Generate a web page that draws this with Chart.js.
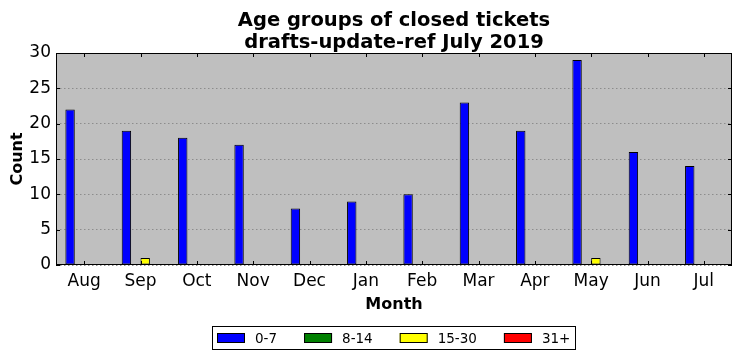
<!DOCTYPE html>
<html>
<head>
<meta charset="utf-8">
<script src="https://cdn.jsdelivr.net/npm/chart.js@4"></script>
<style>
  html, body { margin: 0; padding: 0; background: #fff; }
  #wrap { width: 742px; height: 361px; }
</style>
</head>
<body>
<div id="wrap"><canvas id="ageChart"></canvas></div>
<script>
// Data
const months = ['Aug', 'Sep', 'Oct', 'Nov', 'Dec', 'Jan', 'Feb', 'Mar', 'Apr', 'May', 'Jun', 'Jul'];
const age0to7 = [22, 19, 18, 17, 8, 9, 10, 23, 19, 29, 16, 14];
const age8to14 = [0, 0, 0, 0, 0, 0, 0, 0, 0, 0, 0, 0];
const age15to30 = [0, 1, 0, 0, 0, 0, 0, 0, 0, 1, 0, 0];
const age31plus = [0, 0, 0, 0, 0, 0, 0, 0, 0, 0, 0, 0];
const titleLines = ['Age groups of closed tickets', 'drafts-update-ref July 2019'];

Chart.defaults.font.family = "'DejaVu Sans', sans-serif";
Chart.defaults.color = '#000';

// matplotlib-like frame: grey background, black box, inward ticks, title and boxed legend
const mplFrame = {
    id: 'mplFrame',
    beforeDraw(chart) {
        const { ctx, chartArea: a } = chart;
        ctx.save();
        ctx.fillStyle = '#bfbfbf';
        ctx.fillRect(a.left, a.top, a.right - a.left, a.bottom - a.top);
        ctx.restore();
    },
    afterDraw(chart) {
        const { ctx, chartArea: a } = chart;
        const xs = chart.scales.x, ys = chart.scales.y;
        ctx.save();
        ctx.strokeStyle = '#000';
        ctx.lineWidth = 1;
        ctx.strokeRect(a.left + 0.5, a.top + 0.5, a.right - a.left - 1, a.bottom - a.top - 1);

        // inward ticks
        ctx.beginPath();
        xs.ticks.forEach((t, i) => {
            const x = Math.round(xs.getPixelForTick(i)) + 0.5;
            ctx.moveTo(x, a.bottom); ctx.lineTo(x, a.bottom - 4);
            ctx.moveTo(x, a.top); ctx.lineTo(x, a.top + 4);
        });
        ys.ticks.forEach((t, i) => {
            const y = Math.round(ys.getPixelForTick(i)) + 0.5;
            ctx.moveTo(a.left, y); ctx.lineTo(a.left + 4, y);
            ctx.moveTo(a.right, y); ctx.lineTo(a.right - 4, y);
        });
        ctx.stroke();

        // title
        const cx = (a.left + a.right) / 2;
        ctx.fillStyle = '#000';
        ctx.textAlign = 'center';
        ctx.textBaseline = 'alphabetic';
        ctx.font = "bold 19.5px 'DejaVu Sans'";
        ctx.fillText(titleLines[0], cx, 26);
        ctx.fillText(titleLines[1], cx, 48);

        // legend
        ctx.font = "13.5px 'DejaVu Sans'";
        const boxW = 28, boxH = 10, textGap = 10, itemGap = 27, pad = 4;
        const items = chart.data.datasets.map(d => ({ label: d.label, color: d.backgroundColor, w: ctx.measureText(d.label).width }));
        let total = items.reduce((s, it) => s + boxW + textGap + it.w, 0) + itemGap * (items.length - 1);
        const lw = Math.round(total + pad * 2 + 3), lh = 24;
        const lx = Math.round(cx - lw / 2), ly = 326;
        ctx.fillStyle = '#fff';
        ctx.fillRect(lx, ly, lw, lh);
        ctx.strokeRect(lx + 0.5, ly + 0.5, lw - 1, lh - 1);
        let x = lx + pad + 1;
        const my = ly + lh / 2;
        ctx.textAlign = 'left';
        ctx.textBaseline = 'middle';
        items.forEach(it => {
            ctx.fillStyle = it.color;
            ctx.fillRect(x, my - boxH / 2, boxW, boxH);
            ctx.strokeRect(x + 0.5, my - boxH / 2 + 0.5, boxW - 1, boxH - 1);
            ctx.fillStyle = '#000';
            ctx.fillText(it.label, x + boxW + textGap, my + 1);
            x += boxW + textGap + it.w + itemGap;
        });
        ctx.restore();
    }
};

const barStyle = { borderColor: '#000', borderWidth: 1, borderSkipped: false, categoryPercentage: 0.667, barPercentage: 1.0 };

new Chart(document.getElementById('ageChart'), {
    type: 'bar',
    data: {
        labels: months,
        datasets: [
            { label: '0-7', data: age0to7, backgroundColor: '#0000ff', ...barStyle },
            { label: '8-14', data: age8to14, backgroundColor: '#008000', ...barStyle },
            { label: '15-30', data: age15to30, backgroundColor: '#ffff00', ...barStyle },
            { label: '31+', data: age31plus, backgroundColor: '#ff0000', ...barStyle }
        ]
    },
    options: {
        responsive: true,
        maintainAspectRatio: false,
        animation: false,
        layout: { padding: { top: 53, right: 10, bottom: 47, left: 0 } },
        plugins: {
            legend: { display: false },
            title: { display: false },
            tooltip: { enabled: false }
        },
        scales: {
            x: {
                grid: { display: false, drawTicks: false },
                border: { display: false },
                ticks: { font: { size: 17 }, padding: 6, maxRotation: 0 },
                title: { display: true, text: 'Month', font: { size: 16, weight: 'bold' }, padding: { top: 0, bottom: 0 } },
                afterFit(scale) { scale.height = 49; }
            },
            y: {
                min: 0,
                max: 30,
                ticks: { stepSize: 5, font: { size: 17 }, padding: 5 },
                grid: { color: '#8c8c8c', lineWidth: 1, drawTicks: false },
                border: { display: false, dash: [1.5, 2.5] },
                title: { display: true, text: 'Count', font: { size: 16, weight: 'bold' }, padding: { top: 8, bottom: 0 } },
                afterFit(scale) { scale.width = 56; }
            }
        }
    },
    plugins: [mplFrame]
});
</script>
</body>
</html>
